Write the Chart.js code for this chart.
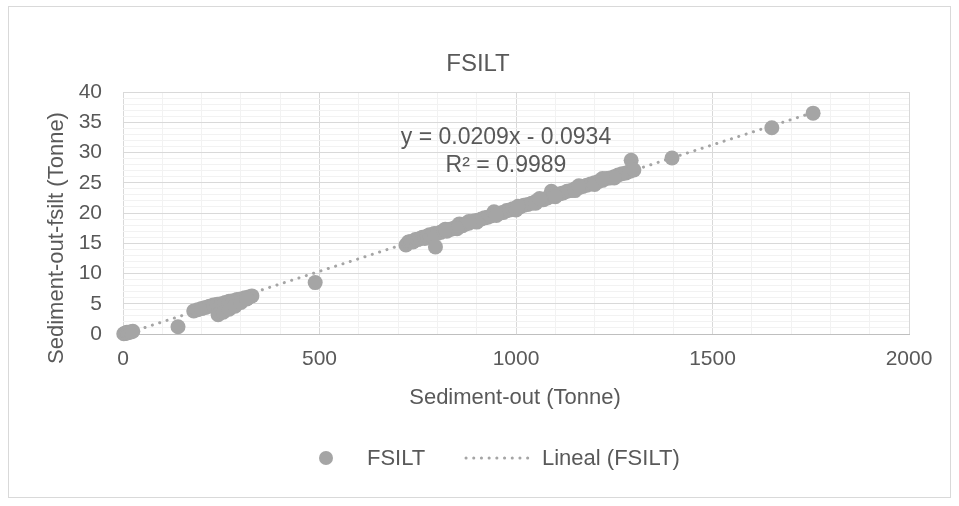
<!DOCTYPE html>
<html>
<head>
<meta charset="utf-8">
<script src="https://cdn.jsdelivr.net/npm/chart.js@4"></script>
<style>
html, body { margin: 0; padding: 0; background: #fff; }
</style>
</head>
<body>
<canvas id="myChart" width="959" height="506"></canvas>
<script>
// Sediment-out (Tonne)
let sedOut = [
  2, 5, 8, 10, 12, 15, 20, 25,
  140,
  180, 190, 200, 210, 220, 230, 240, 250, 260, 270, 280, 290, 300, 310, 320, 328,
  242, 255, 270, 285, 300, 315,
  489,
  720, 726, 732, 738, 744, 750, 756, 762, 768, 774, 780, 786, 792, 795, 800, 808,
  816, 824, 832, 840, 848, 856, 864, 872, 880, 888, 896, 904, 912, 920, 928, 936,
  944, 952, 960, 968, 976, 984, 992, 1000, 1010, 1020, 1030, 1040, 1050, 1060, 1070,
  1080, 1090, 1096, 1104, 1112, 1120, 1130, 1140, 1150, 1160, 1170, 1180, 1190, 1200,
  1210, 1220, 1230, 1240, 1250, 1260, 1270, 1280, 1290, 1293, 1300,
  850, 900, 950, 1000, 1050, 1100, 1150, 1200, 1250,
  820, 880, 1005, 1060, 1160, 1220,
  1397, 1651, 1756
];
// Sediment-out-fsilt (Tonne)
let sedFsilt = [
  0.05, 0.1, 0.15, 0.3, 0.2, 0.3, 0.35, 0.45,
  1.2,
  3.8, 4.0, 4.2, 4.4, 4.6, 4.8, 4.9, 5.0, 5.2, 5.4, 5.5, 5.7, 5.8, 6.0, 6.1, 6.3,
  3.2, 3.6, 4.1, 4.6, 5.2, 5.8,
  8.5,
  14.7, 15.2, 15.3, 15.2, 15.6, 15.6, 15.8, 16.0, 15.8, 16.2, 16.4, 16.2, 16.6, 14.4, 16.6, 16.8,
  17.1, 17.0, 17.3, 17.4, 17.7, 18.2, 17.9, 18.2, 18.3, 18.6, 18.7, 18.8, 19.0, 19.2, 19.3, 19.5,
  20.2, 19.9, 20.0, 20.1, 20.4, 20.5, 20.7, 20.8, 21.0, 21.3, 21.4, 21.6, 21.9, 22.1, 22.2,
  22.5, 23.6, 22.8, 23.0, 23.2, 23.3, 23.6, 23.7, 24.0, 24.2, 24.4, 24.6, 24.8, 25.0,
  25.2, 25.4, 25.7, 25.8, 26.0, 26.3, 26.5, 26.6, 26.9, 28.7, 27.1,
  17.4, 18.5, 19.6, 20.5, 21.6, 22.7, 23.7, 24.7, 25.8,
  17.3, 18.6, 21.1, 22.4, 24.5, 25.7,
  29.1, 34.1, 36.5
];
// trend line y = a*x + b, as printed on the chart
let trendCoef = [0.0209, -0.0934];
let trendLabel = ['y = 0.0209x - 0.0934', 'R² = 0.9989'];
let legendNames = ['FSILT', 'Lineal (FSILT)'];

let grey = '#a5a5a5';
let txt = '#595959';
let font = 'Liberation Sans, Arial, sans-serif';

let points = sedOut.map((x, i) => ({ x: x, y: sedFsilt[i] }));
let xMin = 0;
let xMax = Math.max(...sedOut);
let trend = [
  { x: xMin, y: trendCoef[0] * xMin + trendCoef[1] },
  { x: xMax, y: trendCoef[0] * xMax + trendCoef[1] }
];

function dotted(ctx, x1, y1, x2, y2) {
  ctx.save();
  ctx.strokeStyle = grey;
  ctx.lineWidth = 3;
  ctx.lineCap = 'round';
  ctx.setLineDash([0.1, 7.6]);
  ctx.beginPath();
  ctx.moveTo(x1, y1);
  ctx.lineTo(x2, y2);
  ctx.stroke();
  ctx.restore();
}

const decor = {
  id: 'decor',
  beforeDraw(chart) {
    const c = chart.ctx;
    c.save();
    c.fillStyle = '#fff';
    c.fillRect(0, 0, chart.width, chart.height);
    c.strokeStyle = '#d9d9d9';
    c.lineWidth = 1;
    c.strokeRect(8.5, 6.5, 942, 491);
    c.restore();
  },
  afterDraw(chart) {
    const c = chart.ctx;
    c.save();
    c.fillStyle = txt;
    c.textBaseline = 'middle';
    c.textAlign = 'center';
    c.font = '24px ' + font;
    c.fillText('FSILT', 478, 64);

    c.font = '22px ' + font;
    c.fillText('Sediment-out (Tonne)', 515, 398);

    c.save();
    c.translate(57, 238);
    c.rotate(-Math.PI / 2);
    c.fillText('Sediment-out-fsilt (Tonne)', 0, 0);
    c.restore();

    c.font = '23px ' + font;
    c.fillText(trendLabel[0], 506, 138);
    c.fillText(trendLabel[1], 506, 166);

    // legend
    c.fillStyle = grey;
    c.beginPath();
    c.arc(326, 458, 7, 0, Math.PI * 2);
    c.fill();
    dotted(c, 466, 458, 534, 458);
    c.fillStyle = txt;
    c.textAlign = 'left';
    c.font = '22px ' + font;
    c.fillText(legendNames[0], 367, 459);
    c.fillText(legendNames[1], 542, 459);
    c.restore();
  }
};

let ctx = document.getElementById('myChart').getContext('2d');
let myChart = new Chart(ctx, {
  type: 'scatter',
  data: {
    datasets: [{
      label: legendNames[0],
      data: points,
      backgroundColor: grey,
      borderWidth: 0,
      pointRadius: 7.5,
      pointHoverRadius: 7.5,
      clip: false
    }, {
      type: 'line',
      label: legendNames[1],
      data: trend,
      borderColor: grey,
      borderWidth: 3,
      borderDash: [0.1, 7.6],
      borderCapStyle: 'round',
      pointRadius: 0,
      fill: false
    }]
  },
  options: {
    responsive: false,
    animation: false,
    layout: {
      padding: { left: 0, right: 50, top: 92, bottom: 0 }
    },
    plugins: {
      legend: { display: false },
      title: { display: false },
      tooltip: { enabled: false }
    },
    scales: {
      x: {
        type: 'linear',
        min: 0,
        max: 2000,
        afterFit: (scale) => { scale.height = 172; },
        border: { display: true, color: '#bfbfbf' },
        grid: {
          drawTicks: false,
          color: (c) => c.tick && c.tick.value % 500 === 0 ? '#d9d9d9' : '#f2f2f2'
        },
        ticks: {
          stepSize: 100,
          autoSkip: false,
          maxRotation: 0,
          padding: 13,
          color: txt,
          font: { family: font, size: 21 },
          callback: (v) => v % 500 === 0 ? v : ''
        }
      },
      y: {
        min: 0,
        max: 40,
        afterFit: (scale) => { scale.width = 123; },
        border: { display: false },
        grid: {
          drawTicks: false,
          color: (c) => c.tick && c.tick.value % 5 === 0 ? '#d9d9d9' : '#f2f2f2'
        },
        ticks: {
          stepSize: 1,
          autoSkip: false,
          padding: 21,
          color: txt,
          font: { family: font, size: 21 },
          callback: (v) => v % 5 === 0 ? v : ''
        }
      }
    }
  },
  plugins: [decor]
});
</script>
</body>
</html>
